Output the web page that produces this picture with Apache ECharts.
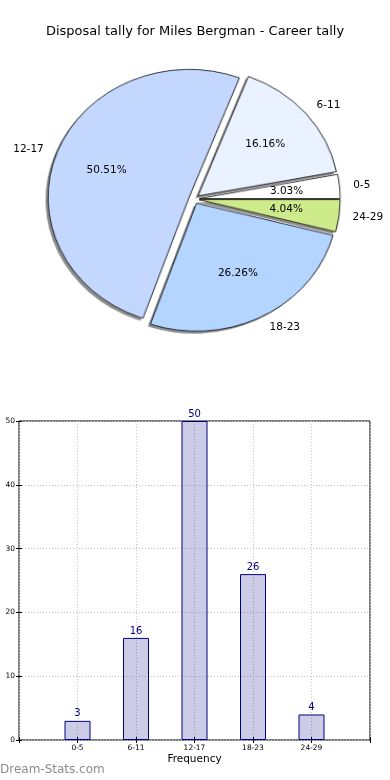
<!DOCTYPE html>
<html>
<head>
<meta charset="utf-8">
<script src="https://cdn.jsdelivr.net/npm/echarts@6/dist/echarts.min.js"></script>
<style>
  html, body { margin: 0; padding: 0; background: #fff; }
  #wrap { position: relative; width: 390px; height: 780px; }
  #pie { position: absolute; left: 0; top: 0; width: 390px; height: 400px; }
  #chart { position: absolute; left: 0; top: 0; width: 390px; height: 780px; }
</style>
</head>
<body>
<div id="wrap">
  <div id="pie"></div>
  <div id="chart"></div>
</div>
<script>
const titleText = "Disposal tally for Miles Bergman - Career tally";
const categories = ["0-5", "6-11", "12-17", "18-23", "24-29"];
const counts = [3, 16, 50, 26, 4];
const sliceColors = ["#ffffff", "#ebf2ff", "#c4d8ff", "#b3d5ff", "#cdeb8b"];
const yTicks = [0, 10, 20, 30, 40, 50];
const xAxisName = "Frequency";
const watermark = "Dream-Stats.com";

const FONT = "DejaVu Sans";
const R = 134;
const CENTER = [194, 199];
const EXPLODE = 5;
// matplotlib pie on non-equal-aspect axes: elliptical
const SX = 1.052, SY = 0.955;

const pieEl = document.getElementById('pie');
pieEl.style.transformOrigin = CENTER[0] + 'px ' + CENTER[1] + 'px';
pieEl.style.transform = 'scale(' + SX + ',' + SY + ')';

function slicePie(withShadow) {
  return {
    type: 'pie',
    center: CENTER,
    radius: [0, R],
    startAngle: 0,
    clockwise: false,
    selectedMode: 'multiple',
    selectedOffset: EXPLODE,
    silent: true,
    itemStyle: withShadow
      ? { borderWidth: 0, shadowColor: 'rgba(0,0,0,0.45)', shadowBlur: 0, shadowOffsetX: -2.5, shadowOffsetY: 2.5 }
      : { borderColor: '#000', borderWidth: 0.8 },
    select: { itemStyle: withShadow ? { borderWidth: 0 } : { borderColor: '#000', borderWidth: 0.8 } },
    label: { show: false },
    labelLine: { show: false },
    data: categories.map((c, i) => ({
      name: c, value: counts[i], selected: true,
      itemStyle: { color: sliceColors[i] }
    }))
  };
}

const pieChart = echarts.init(pieEl, null, { renderer: 'canvas' });
pieChart.setOption({
  animation: false,
  series: [slicePie(true), slicePie(false)]
});

// Map a circular-pie label position onto the exploded elliptical pie
function ellipseLayout(kind) {
  return function (p) {
    const r = p.labelRect;
    const ay = r.y + r.height / 2;
    let ax, align;
    if (kind === 'inside') { ax = r.x + r.width / 2; align = 'center'; }
    else if (r.x + r.width / 2 >= CENTER[0]) { ax = r.x; align = 'left'; }
    else { ax = r.x + r.width; align = 'right'; }
    const dx = ax - CENTER[0], dy = ay - CENTER[1];
    const len = Math.sqrt(dx * dx + dy * dy) || 1;
    const ex = dx + EXPLODE * dx / len, ey = dy + EXPLODE * dy / len;
    return {
      x: CENTER[0] + ex * SX,
      y: CENTER[1] + ey * SY,
      align: align,
      verticalAlign: 'middle'
    };
  };
}

const labelData = categories.map((c, i) => ({ name: c, value: counts[i] }));
const barData = counts.map((v, i) => [i + 1, v]);
const gridLine = { show: true, lineStyle: { color: '#c4c4c4', type: [1, 2], width: 1 } };
const tick = { show: true, inside: true, length: 3, lineStyle: { color: '#000' } };

const chart = echarts.init(document.getElementById('chart'), null, { renderer: 'canvas' });
chart.setOption({
  animation: false,
  backgroundColor: 'transparent',
  textStyle: { fontFamily: FONT },
  title: {
    text: titleText,
    left: 'center',
    top: 20,
    textStyle: { fontFamily: FONT, fontSize: 13, fontWeight: 'normal', color: '#000' }
  },
  graphic: [{
    type: 'text',
    left: 0,
    top: 764,
    style: { text: watermark, fill: '#8c8c8c', font: '12px "DejaVu Sans"' }
  }],
  grid: {
    left: 19, right: 20, top: 421, bottom: 40,
    show: true, borderColor: '#000', borderWidth: 1, backgroundColor: 'transparent'
  },
  xAxis: [{
    type: 'value',
    min: 0, max: 6, interval: 1,
    name: xAxisName,
    nameLocation: 'middle',
    nameGap: 14,
    nameTextStyle: { fontFamily: FONT, fontSize: 10.5, color: '#000' },
    axisLine: { show: false },
    axisTick: tick,
    axisLabel: {
      fontFamily: FONT, fontSize: 7.5, color: '#000', margin: 4,
      formatter: v => (v >= 1 && v <= categories.length) ? categories[v - 1] : ''
    },
    splitLine: gridLine
  }, {
    type: 'value',
    position: 'top',
    min: 0, max: 6, interval: 1,
    axisLine: { show: false },
    axisTick: tick,
    axisLabel: { show: false },
    splitLine: { show: false }
  }],
  yAxis: [{
    type: 'value',
    min: yTicks[0], max: yTicks[yTicks.length - 1], interval: 10,
    axisLine: { show: false },
    axisTick: tick,
    axisLabel: { fontFamily: FONT, fontSize: 7.5, color: '#000', margin: 4 },
    splitLine: gridLine
  }, {
    type: 'value',
    position: 'right',
    min: yTicks[0], max: yTicks[yTicks.length - 1], interval: 10,
    axisLine: { show: false },
    axisTick: tick,
    axisLabel: { show: false },
    splitLine: { show: false }
  }],
  series: [
    {
      type: 'pie',
      center: CENTER,
      radius: [0, R],
      startAngle: 0,
      clockwise: false,
      avoidLabelOverlap: false,
      silent: true,
      itemStyle: { color: 'rgba(0,0,0,0)', borderWidth: 0 },
      label: {
        show: true, position: 'outside', formatter: '{b}',
        fontFamily: FONT, fontSize: 10.5, color: '#000', distanceToLabelLine: 0
      },
      labelLine: { show: false, length: Math.round(R * 0.1), length2: 0 },
      labelLayout: ellipseLayout('outside'),
      data: labelData
    },
    {
      type: 'pie',
      center: CENTER,
      radius: [0, R * 1.2],
      startAngle: 0,
      clockwise: false,
      percentPrecision: 2,
      avoidLabelOverlap: false,
      silent: true,
      itemStyle: { color: 'rgba(0,0,0,0)', borderWidth: 0 },
      label: {
        show: true, position: 'inside', formatter: '{d}%',
        fontFamily: FONT, fontSize: 10.5, color: '#000'
      },
      labelLine: { show: false },
      labelLayout: ellipseLayout('inside'),
      data: labelData
    },
    {
      type: 'bar',
      xAxisIndex: 0,
      yAxisIndex: 0,
      data: barData,
      barWidth: 26,
      itemStyle: { color: 'rgba(0,0,128,0.2)', borderColor: '#000080', borderWidth: 1 },
      label: {
        show: true, position: 'top', distance: 2,
        fontFamily: FONT, fontSize: 10, color: '#000080',
        formatter: p => p.value[1]
      }
    }
  ]
});
</script>
</body>
</html>
